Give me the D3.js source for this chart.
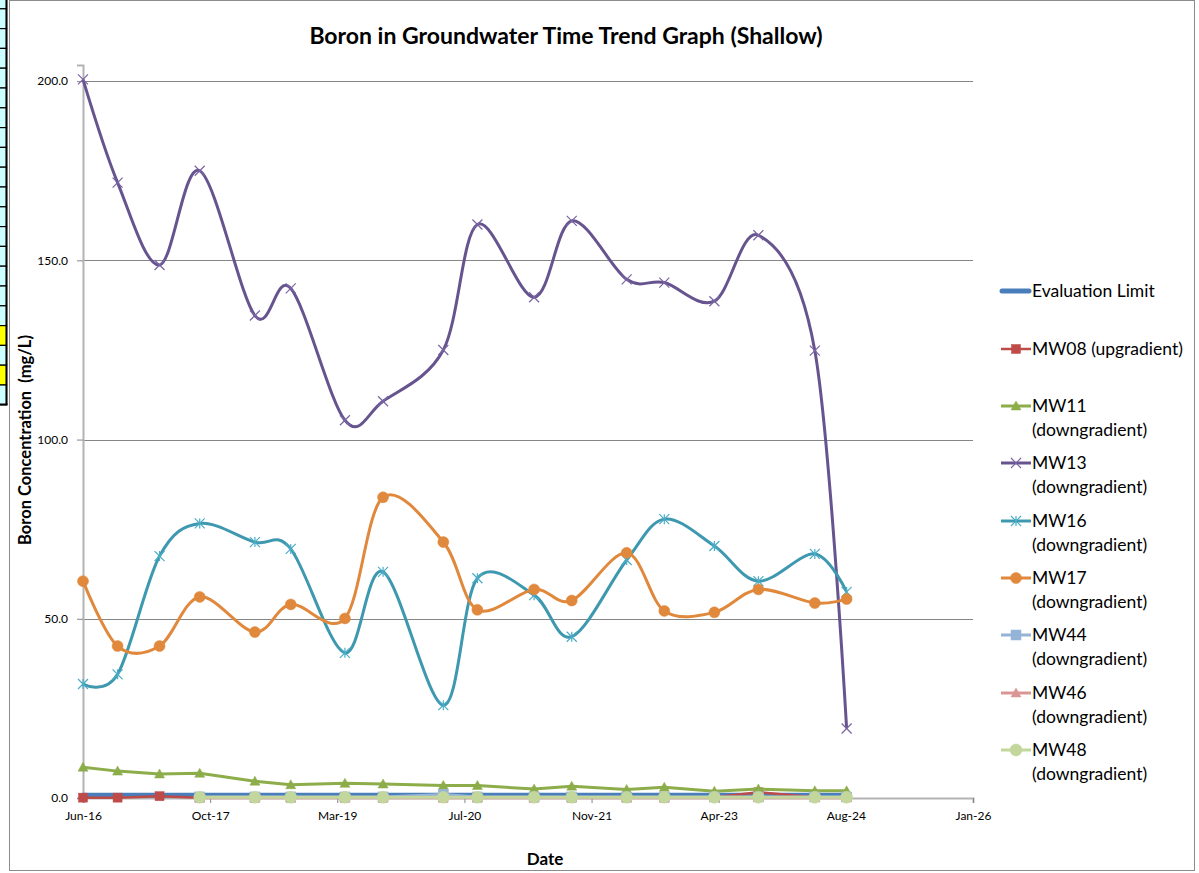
<!DOCTYPE html>
<html>
<head>
<meta charset="utf-8">
<script src="https://cdn.jsdelivr.net/npm/d3@7"></script>
<style>
  body { margin: 0; background: #fff; }
  svg { display: block; font-family: Lato, "Open Sans", "Noto Sans", sans-serif; }
</style>
</head>
<body>
<svg id="chart" width="1199" height="873"></svg>
<script>
// Sampling events (semi-annual) and boron results, mg/L
const sampleDates = [
  "2016-06-06", "2016-10-20", "2017-04-03", "2017-09-08", "2018-04-13", "2018-09-01",
  "2019-04-02", "2019-08-30", "2020-04-23", "2020-09-04", "2021-04-15", "2021-09-10",
  "2022-04-14", "2022-09-09", "2023-03-25", "2023-09-14", "2024-04-23", "2024-08-26"
];
const evaluationLimit = [0.8, 0.8, 0.8, 0.8, 0.8, 0.8, 0.8, 0.8, 0.8, 0.8, 0.8, 0.8, 0.8, 0.8, 0.8, 0.8, 0.8, 0.8];
const mw08 = [0.1, 0.1, 0.5, 0.1, 0.1, 0.1, 0.1, 0.1, 0.1, 0.1, 0.1, 0.1, 0.1, 0.1, 0.2, 1.6, 0.2, 0.2];
const mw11 = [8.6, 7.5, 6.7, 6.9, 4.7, 3.7, 4.1, 3.9, 3.5, 3.5, 2.5, 3.3, 2.4, 3.0, 1.9, 2.5, 2.0, 2.0];
const mw13 = [200.5, 171.7, 148.7, 175.0, 134.6, 142.2, 105.4, 110.7, 125.0, 160.0, 139.7, 161.0, 144.7, 143.8, 138.6, 157.0, 124.8, 19.4];
const mw16 = [31.8, 34.5, 67.5, 76.6, 71.4, 69.5, 40.5, 63.1, 25.9, 61.3, 56.6, 45.0, 66.4, 77.8, 70.3, 60.5, 68.1, 57.5];
const mw17 = [60.5, 42.4, 42.4, 56.1, 46.3, 54.0, 50.1, 83.9, 71.4, 52.5, 58.2, 55.1, 68.4, 52.2, 51.8, 58.2, 54.4, 55.5];
const mw44 = [null, null, null, 0.3, 0.3, 0.3, 0.3, 0.3, 1.0, 0.3, 0.3, 0.3, 0.3, 0.3, 0.3, 0.3, 0.3, 0.3];
const mw46 = [null, null, null, 0.1, 0.1, 0.1, 0.1, 0.1, 0.1, 0.1, 0.1, 0.1, 0.1, 0.1, 0.1, 0.1, 0.1, 0.1];
const mw48 = [null, null, null, 0.2, 0.2, 0.2, 0.2, 0.2, 0.2, 0.2, 0.2, 0.2, 0.2, 0.2, 0.2, 0.2, 0.2, 0.2];

const seriesNames = [
  ["Evaluation Limit"],
  ["MW08 (upgradient)"],
  ["MW11", "(downgradient)"],
  ["MW13", "(downgradient)"],
  ["MW16", "(downgradient)"],
  ["MW17", "(downgradient)"],
  ["MW44", "(downgradient)"],
  ["MW46", "(downgradient)"],
  ["MW48", "(downgradient)"]
];
const seriesValues = [evaluationLimit, mw08, mw11, mw13, mw16, mw17, mw44, mw46, mw48];

const yTicks = [0, 50, 100, 150, 200];
const yMax = 204.5;
const xAxisStart = "2016-06-06";
const xTickStepDays = 500;
const xTickLabels = ["Jun-16", "Oct-17", "Mar-19", "Jul-20", "Nov-21", "Apr-23", "Aug-24", "Jan-26"];

// Drawing styles per series
const styles = [
  { color: "#4A7EBB", width: 5, marker: "none", smooth: false, cap: "round" },
  { color: "#BE4B48", width: 2.5, marker: "square", mColor: "#BE4B48", mSize: 9, smooth: false },
  { color: "#8CAD4A", width: 3, marker: "triangle", mColor: "#8CAD4A", mSize: 10, smooth: false },
  { color: "#67548F", width: 3, marker: "x", mColor: "#7A64A4", mSize: 10, smooth: true },
  { color: "#3D98B0", width: 3, marker: "star", mColor: "#4BACC6", mSize: 10, smooth: true },
  { color: "#E0883C", width: 3, marker: "circle", mColor: "#E0883C", mSize: 11, smooth: true },
  { color: "#95B3D7", width: 3, marker: "square", mColor: "#95B3D7", mSize: 10, smooth: false },
  { color: "#D99694", width: 3, marker: "triangle", mColor: "#D99694", mSize: 10, smooth: false },
  { color: "#C3D69B", width: 3, marker: "circle", mColor: "#C3D69B", mSize: 12, smooth: false }
];

const svg = d3.select("#chart");
const parse = d3.utcParse("%Y-%m-%d");
const dates = sampleDates.map(parse);
const start = parse(xAxisStart);
const xTickDates = xTickLabels.map((_, i) => d3.utcDay.offset(start, i * xTickStepDays));

const x = d3.scaleUtc().domain([start, xTickDates[xTickDates.length - 1]]).range([83, 973]);
const y = d3.scaleLinear().domain([0, yMax]).range([798, 65]);

// Worksheet cells peeking in at the left edge
const cells = svg.append("g");
const rowTops = d3.range(0, 22).map(i => -11 + i * 19.8).filter(v => v < 400);
rowTops.forEach(t => {
  const h = 19.8;
  const isYellow = (t > 320 && t < 330) || (t > 360 && t < 370);
  cells.append("rect").attr("x", -3).attr("y", t).attr("width", 9.5).attr("height", h)
    .attr("fill", isYellow ? "#FFFF00" : "#CCFFFF").attr("stroke", "#000").attr("stroke-width", 1.2);
});
cells.append("line").attr("x1", 6.5).attr("x2", 6.5).attr("y1", 0).attr("y2", 405)
  .attr("stroke", "#000").attr("stroke-width", 2);
cells.append("line").attr("x1", 0).attr("x2", 7.5).attr("y1", 404.5).attr("y2", 404.5)
  .attr("stroke", "#000").attr("stroke-width", 2);

// Chart border
svg.append("rect").attr("x", 9.5).attr("y", 0.5).attr("width", 1185).attr("height", 870)
  .attr("fill", "none").attr("stroke", "#8C8C8C").attr("stroke-width", 1);

// Gridlines
svg.append("g").selectAll("line").data(yTicks.filter(d => d > 0)).join("line")
  .attr("x1", x.range()[0]).attr("x2", x.range()[1])
  .attr("y1", d => Math.round(y(d)) + 0.5).attr("y2", d => Math.round(y(d)) + 0.5)
  .attr("stroke", "#868686").attr("stroke-width", 1);

// Y axis
const yAxis = svg.append("g").attr("transform", `translate(${x.range()[0]},0)`)
  .call(d3.axisLeft(y).tickValues(yTicks).tickFormat(d3.format(".1f")).tickSize(6).tickPadding(9));
yAxis.select(".domain").attr("stroke", "#B3B3B3").attr("stroke-width", 2);
yAxis.selectAll(".tick line").attr("stroke", "#868686");
yAxis.selectAll(".tick text").attr("font-size", 12).attr("fill", "#000")
  .attr("font-family", "Lato, 'Open Sans', sans-serif");

// X axis
const xAxis = svg.append("g").attr("transform", `translate(0,${y(0)})`)
  .call(d3.axisBottom(x).tickValues(xTickDates).tickFormat((d, i) => xTickLabels[i]).tickSize(5).tickPadding(8));
xAxis.select(".domain").attr("stroke", "#B3B3B3").attr("stroke-width", 2);
xAxis.selectAll(".tick line").attr("stroke", "#868686");
xAxis.selectAll(".tick text").attr("font-size", 12).attr("fill", "#000")
  .attr("font-family", "Lato, 'Open Sans', sans-serif");

// Marker drawing
function drawMarker(g, kind, cx, cy, color, size) {
  const h = size / 2;
  if (kind === "square") {
    g.append("rect").attr("x", cx - h).attr("y", cy - h).attr("width", size).attr("height", size)
      .attr("fill", color).attr("stroke", color).attr("stroke-width", 0.5);
  } else if (kind === "circle") {
    g.append("circle").attr("cx", cx).attr("cy", cy).attr("r", h).attr("fill", color).attr("stroke", color).attr("stroke-width", 0.5);
  } else if (kind === "triangle") {
    g.append("path").attr("d", `M${cx},${cy - h}L${cx + h},${cy + h * 0.8}L${cx - h},${cy + h * 0.8}Z`)
      .attr("fill", color).attr("stroke", color).attr("stroke-width", 0.5);
  } else if (kind === "x") {
    g.append("path").attr("d", `M${cx - h},${cy - h}L${cx + h},${cy + h}M${cx - h},${cy + h}L${cx + h},${cy - h}`)
      .attr("stroke", color).attr("stroke-width", 1.2).attr("fill", "none");
  } else if (kind === "star") {
    g.append("path").attr("d", `M${cx - h},${cy - h}L${cx + h},${cy + h}M${cx - h},${cy + h}L${cx + h},${cy - h}M${cx},${cy - h}L${cx},${cy + h}`)
      .attr("stroke", color).attr("stroke-width", 1.2).attr("fill", "none");
  }
}

// Series
const plot = svg.append("g");
seriesValues.forEach((vals, si) => {
  const st = styles[si];
  const pts = vals.map((v, i) => ({ d: dates[i], v })).filter(p => p.v !== null);
  const line = d3.line().x(p => x(p.d)).y(p => y(p.v))
    .curve(st.smooth ? d3.curveCardinal.tension(0) : d3.curveLinear);
  const g = plot.append("g");
  g.append("path").attr("d", line(pts)).attr("fill", "none")
    .attr("stroke", st.color).attr("stroke-width", st.width)
    .attr("stroke-linejoin", "round").attr("stroke-linecap", st.cap || "butt");
  if (st.marker !== "none") {
    pts.forEach(p => drawMarker(g, st.marker, x(p.d), y(p.v), st.mColor, st.mSize));
  }
});

// Title and axis titles
svg.append("text").attr("x", 566).attr("y", 44).attr("text-anchor", "middle")
  .attr("font-size", 23).attr("font-weight", "bold").attr("fill", "#000")
  .text("Boron in Groundwater Time Trend Graph (Shallow)");
svg.append("text").attr("transform", "translate(31,440) rotate(-90)").attr("text-anchor", "middle")
  .attr("font-size", 16.5).attr("font-weight", "bold").attr("fill", "#000")
  .attr("xml:space", "preserve").style("white-space", "pre")
  .text("Boron Concentration  (mg/L)");
svg.append("text").attr("x", 545).attr("y", 865).attr("text-anchor", "middle")
  .attr("font-size", 17).attr("font-weight", "bold").attr("fill", "#000").text("Date");

// Legend
const legendY = [291, 349, 406, 463, 521, 578, 635, 693, 750];
const legend = svg.append("g");
seriesNames.forEach((lines, si) => {
  const st = styles[si];
  const ly = legendY[si];
  const g = legend.append("g");
  g.append("line").attr("x1", si === 0 ? 1002 : 1001).attr("x2", si === 0 ? 1029 : 1031)
    .attr("y1", ly).attr("y2", ly).attr("stroke", st.color).attr("stroke-width", st.width)
    .attr("stroke-linecap", st.cap || "butt");
  if (st.marker !== "none") drawMarker(g, st.marker, 1016, ly, st.mColor, st.mSize);
  lines.forEach((t, k) => {
    g.append("text").attr("x", 1032).attr("y", ly + 6 + k * 24).attr("font-size", 17.5)
      .attr("fill", "#000").text(t);
  });
});
</script>
</body>
</html>
